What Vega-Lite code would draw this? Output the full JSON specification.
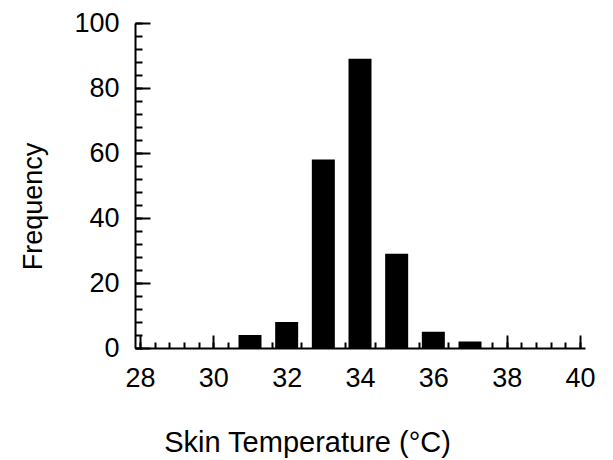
{
  "$schema": "https://vega.github.io/schema/vega-lite/v6.json",
  "autosize": "none",
  "width": 450,
  "height": 325,
  "padding": {"left": 135, "top": 23, "right": 28, "bottom": 112},
  "background": "white",
  "config": {
    "view": {"stroke": null},
    "axis": {
      "labelFont": "Liberation Sans",
      "titleFont": "Liberation Sans",
      "labelColor": "black",
      "titleColor": "black",
      "domainColor": "black",
      "tickColor": "black",
      "domainWidth": 2,
      "tickWidth": 2,
      "grid": false,
      "titleFontWeight": "normal"
    }
  },
  "data": {
    "values": [
      {"temp": 31, "freq": 4},
      {"temp": 32, "freq": 8},
      {"temp": 33, "freq": 58},
      {"temp": 34, "freq": 89},
      {"temp": 35, "freq": 29},
      {"temp": 36, "freq": 5},
      {"temp": 37, "freq": 2}
    ]
  },
  "resolve": {"axis": {"x": "independent", "y": "independent"}},
  "layer": [
    {
      "mark": {"type": "bar", "opacity": 0},
      "encoding": {
        "x": {
          "field": "temp",
          "type": "quantitative",
          "scale": {"domain": [28, 40], "nice": false, "zero": false},
          "axis": {
            "orient": "bottom",
            "values": [28, 28.4, 28.8, 29.2, 29.6, 30, 30.4, 30.8, 31.2, 31.6, 32, 32.4, 32.8, 33.2, 33.6, 34, 34.4, 34.8, 35.2, 35.6, 36, 36.4, 36.8, 37.2, 37.6, 38, 38.4, 38.8, 39.2, 39.6, 40],
            "tickSize": -6,
            "labels": false,
            "domain": false,
            "title": null
          }
        },
        "y": {
          "field": "freq",
          "type": "quantitative",
          "scale": {"domain": [0, 100], "nice": false},
          "axis": {
            "orient": "left",
            "values": [0, 4, 8, 12, 16, 20, 24, 28, 32, 36, 40, 44, 48, 52, 56, 60, 64, 68, 72, 76, 80, 84, 88, 92, 96, 100],
            "tickSize": -7,
            "labels": false,
            "domain": false,
            "title": null
          }
        }
      }
    },
    {
      "mark": {"type": "bar", "color": "black", "size": 23},
      "encoding": {
        "x": {
          "field": "temp",
          "type": "quantitative",
          "title": "Skin Temperature (°C)",
          "axis": {
            "orient": "bottom",
            "values": [28, 30, 32, 34, 36, 38, 40],
            "tickSize": -13,
            "labelFontSize": 27,
            "labelPadding": 30,
            "titleFontSize": 29,
            "titleAlign": "center",
            "titleBaseline": "alphabetic",
            "titleX": 172,
            "titleY": 103
          }
        },
        "y": {
          "field": "freq",
          "type": "quantitative",
          "title": "Frequency",
          "axis": {
            "orient": "left",
            "values": [0, 20, 40, 60, 80, 100],
            "tickSize": -15,
            "labelFontSize": 27,
            "labelPadding": 31,
            "titleFontSize": 27,
            "titleAngle": -90,
            "titleAlign": "center",
            "titleBaseline": "alphabetic",
            "titleX": -94,
            "titleY": 183
          }
        }
      }
    }
  ]
}
